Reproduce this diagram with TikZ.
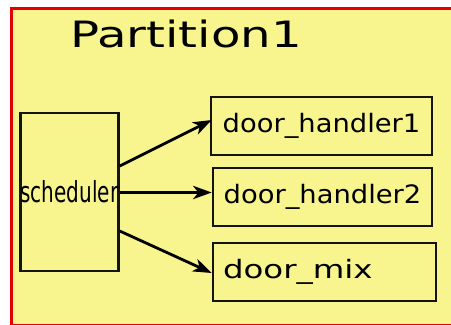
\documentclass[tikz,border=0pt]{standalone}
\usepackage{fontspec}
\setmainfont{DejaVu Sans}
\usetikzlibrary{arrows.meta,calc}
\definecolor{partfill}{RGB}{248,245,143}
\definecolor{partred}{RGB}{228,0,0}
\definecolor{boxline}{RGB}{20,20,20}
\begin{document}
\begin{tikzpicture}[x=0.75pt,y=-0.75pt,
  blk/.style={draw=boxline,line width=1.9pt,fill=partfill,inner sep=0pt,minimum height=43.5pt},
  conn/.style={draw=black,line width=2.1pt,-{Stealth[length=14pt,width=10pt,inset=4pt]}},
  hfont/.style={font=\fontsize{19}{20}\selectfont}]
\useasboundingbox (0,0) rectangle (451,325);
\clip (0,0) rectangle (451,325);
\node[draw=partred,line width=2.3pt,fill=partfill,minimum width=337.5pt,minimum height=237.75pt,inner sep=0pt,anchor=north west] (part) at (10,7) {};
\node[font=\fontsize{27.2}{30}\selectfont,anchor=base west,inner sep=0pt] (title) at (70,47) {\scalebox{1.33}[1]{Partition1}};
\node[blk,minimum width=72.75pt,minimum height=118.5pt,font=\fontsize{21.75}{24}\selectfont] (sched) at (69.5,192) {\scalebox{0.69}[1]{scheduler}};
\node[blk,hfont,minimum width=165.75pt] (h1) at (321.5,126) {\scalebox{1.08}[1]{door\_handler1}};
\node[blk,hfont,minimum width=164.25pt] (h2) at (322.5,197) {\scalebox{1.08}[1]{door\_handler2}};
\node[blk,hfont,inner xsep=7.5pt,text width=152.25pt,align=left] (mix) at (324.5,272) {\scalebox{1.28}[1]{door\_mix}};
\draw[conn] ($(sched.east)+(0,-26)$) -- ($(h1.west)+(2,-6)$);
\draw[conn] ($(sched.east)+(0,0.5)$) -- ($(h2.west)+(0,-4.5)$);
\draw[conn] ($(sched.east)+(0,39)$) -- ($(mix.west)+(0,1)$);
\end{tikzpicture}
\end{document}
